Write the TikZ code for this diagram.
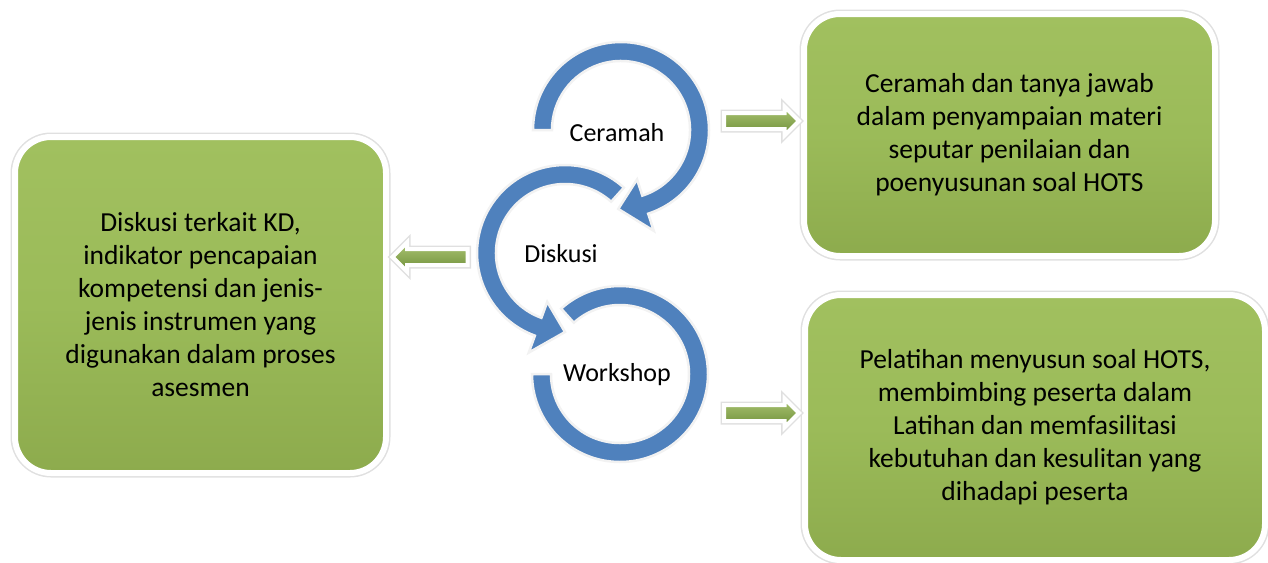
\documentclass[tikz,border=0pt]{standalone}
\usepackage{fontspec}
\setmainfont{Carlito}
\usetikzlibrary{shapes.arrows}

\definecolor{ringblue}{HTML}{4F81BD}
\definecolor{boxgreen}{HTML}{9BBB59}
\definecolor{boxgreenlight}{HTML}{A1C05F}
\definecolor{boxgreendark}{HTML}{8DAB4D}
\definecolor{arrowdark}{HTML}{6F8E3A}

\tikzset{
  greenbox/.style={rectangle, rounded corners=36pt, top color=boxgreenlight, bottom color=boxgreendark, middle color=boxgreen,
    draw=white, line width=6pt, preaction={draw=black!12, line width=9pt}, align=center, inner sep=0pt,
    font=\fontsize{27.5}{33}\selectfont},
  ring/.style={fill=ringblue, draw=black!5, line width=2.5pt, line join=miter},
  ringlabel/.style={font=\fontsize{26}{32.5}\selectfont},
  greenarrow/.style={single arrow, single arrow head extend=6.5pt, minimum height=75pt, inner sep=6pt,
    top color=boxgreen!85!white, bottom color=arrowdark, draw=white, line width=4pt,
    preaction={draw=black!12, line width=7pt}}
}

\begin{document}
\begin{tikzpicture}[x=1pt, y=1pt, line cap=butt]

\useasboundingbox (0,0) rectangle (1268,-562);

% Workshop ring (drawn first, lies below)
\begin{scope}[shift={(620,-374)}]
\path[ring] (132:88) arc[start angle=132, end angle=-180, radius=88]
  -- (180:69) arc[start angle=-180, end angle=132, radius=69] -- cycle;
\end{scope}

% Diskusi ring with arrow head at the bottom
\begin{scope}[shift={(565,-253)}]
\path[ring] (48:88) arc[start angle=48, end angle=250, radius=88]
  -- (250:106) -- (270:79) -- (250:52)
  -- (250:69) arc[start angle=250, end angle=48, radius=69] -- cycle;
\end{scope}

% Ceramah ring with arrow head at the bottom
\begin{scope}[shift={(621,-130)}]
\path[ring] (180:88) arc[start angle=180, end angle=-72, radius=88]
  -- (-72:106) -- (-92:79) -- (-72:52)
  -- (-72:69) arc[start angle=-72, end angle=180, radius=69] -- cycle;
\end{scope}

% Labels inside the rings
\node[ringlabel] (ceramah) at (617,-133) {Ceramah};
\node[ringlabel] (diskusi) at (561,-254) {Diskusi};
\node[ringlabel] (workshop) at (617,-375) {Workshop};

% Green boxes
\node[greenbox, minimum width=371pt, minimum height=336pt] (diskusiBox) at (200.5,-305)
  {Diskusi terkait KD,\\ indikator pencapaian\\ kompetensi dan jenis-\\ jenis instrumen yang\\ digunakan dalam proses\\ asesmen};
\node[greenbox, minimum width=411pt, minimum height=242pt] (ceramahBox) at (1009.5,-135)
  {Ceramah dan tanya jawab\\ dalam penyampaian materi\\ seputar penilaian dan\\ poenyusunan soal HOTS};
\node[greenbox, minimum width=460pt, minimum height=265pt] (workshopBox) at (1035,-427.5)
  {Pelatihan menyusun soal HOTS,\\ membimbing peserta dalam\\ Latihan dan memfasilitasi\\ kebutuhan dan kesulitan yang\\ dihadapi peserta};

% Block arrows between rings and boxes
\node[greenarrow] (arrCeramah) at (757.5,-121) {};
\node[greenarrow, shape border rotate=180] (arrDiskusi) at (434,-257) {};
\node[greenarrow] (arrWorkshop) at (757.5,-413) {};

\end{tikzpicture}
\end{document}
